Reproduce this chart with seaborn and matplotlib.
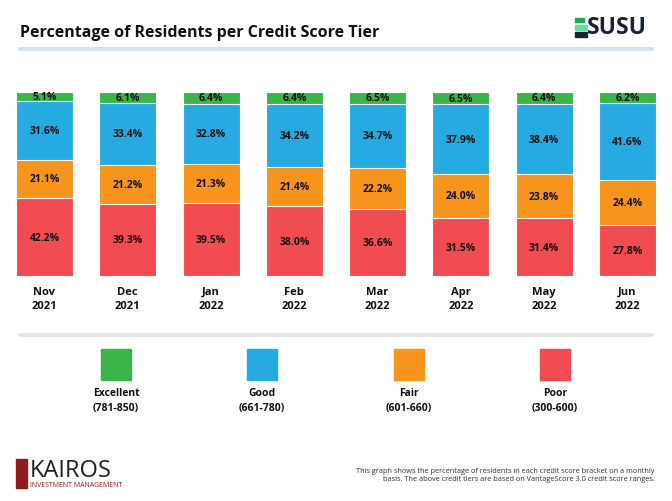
import matplotlib
matplotlib.use("Agg")
import matplotlib.pyplot as plt
import matplotlib.patches as mpatches
import seaborn as sns
import pandas as pd

# data (percent of residents per tier)
months = ["Nov\n2021", "Dec\n2021", "Jan\n2022", "Feb\n2022",
          "Mar\n2022", "Apr\n2022", "May\n2022", "Jun\n2022"]
excellent = [5.1, 6.1, 6.4, 6.4, 6.5, 6.5, 6.4, 6.2]
good = [31.6, 33.4, 32.8, 34.2, 34.7, 37.9, 38.4, 41.6]
fair = [21.1, 21.2, 21.3, 21.4, 22.2, 24.0, 23.8, 24.4]
poor = [42.2, 39.3, 39.5, 38.0, 36.6, 31.5, 31.4, 27.8]

tier_names = ["Excellent", "Good", "Fair", "Poor"]
tier_ranges = ["(781-850)", "(661-780)", "(601-660)", "(300-600)"]
tier_colors = ["#3BB54A", "#27AAE1", "#F7941D", "#F24C53"]

sns.set_theme(style="white")
plt.rcParams["font.family"] = ["Open Sans", "DejaVu Sans"]

df = pd.DataFrame({"month": months, "Excellent": excellent, "Good": good,
                   "Fair": fair, "Poor": poor})
# stack bottom -> top : Poor, Fair, Good, Excellent
stack = ["Poor", "Fair", "Good", "Excellent"]
bottoms = df[stack].cumsum(axis=1) - df[stack]
tops = df[stack].cumsum(axis=1)

fig = plt.figure(figsize=(6.72, 5.02), dpi=100)
ax = fig.add_axes([16 / 672, (502 - 277) / 502, 640 / 672, 184 / 502])

color_of = dict(zip(tier_names, tier_colors))
# draw cumulative tops from the tallest down so the segments stack
for tier in reversed(stack):
    sns.barplot(x=df["month"], y=tops[tier], color=color_of[tier], saturation=1,
                width=0.684, edgecolor="white", linewidth=0.8, ax=ax)

for tier in stack:
    for i in range(len(df)):
        v = df[tier].iloc[i]
        yc = bottoms[tier].iloc[i] + v / 2
        ax.text(i, yc, f"{v:.1f}%", ha="center", va="center",
                fontsize=7.5, fontweight="bold", color="#111111")

ax.set_xlim(-0.342, 7.342)
ax.set_ylim(0, 100)
ax.set_xlabel("")
ax.set_ylabel("")
ax.set_yticks([])
ax.tick_params(axis="x", length=0, pad=7)
for lab in ax.get_xticklabels():
    lab.set_fontweight("bold")
    lab.set_fontsize(8)
    lab.set_color("#111111")
    lab.set_linespacing(1.4)
for s in ax.spines.values():
    s.set_visible(False)

# title + rule
fig.text(20 / 672, 1 - 33 / 502, "Percentage of Residents per Credit Score Tier",
         fontsize=11.5, fontweight="bold", color="#111111", va="center")
fig.add_artist(plt.Line2D([20 / 672, 652 / 672], [1 - 50 / 502] * 2,
                          color="#D3E2F2", lw=3))
# separator above legend
fig.add_artist(plt.Line2D([20 / 672, 652 / 672], [1 - 336 / 502] * 2,
                          color="#E3E7E7", lw=3))

# ESUSU logo
def px_rect(x, y, w, h, color):
    fig.add_artist(mpatches.Rectangle((x / 672, 1 - (y + h) / 502), w / 672, h / 502,
                                      color=color, transform=fig.transFigure))

px_rect(575, 19, 9, 4, "#1FA855")
px_rect(575, 26, 12, 5, "#6EDBA0")
px_rect(575, 33, 12, 5, "#16233A")
fig.text(587 / 672, 1 - 28 / 502, "SUSU", fontsize=16.5, fontweight="bold",
         color="#16233A", va="center", ha="left")

# legend
centers = [116, 262, 409, 555]
for name, rng, col, cx in zip(tier_names, tier_ranges, tier_colors, centers):
    px_rect(cx - 15, 350, 30, 31, col)
    fig.text(cx / 672, 1 - 401 / 502, name + "\n" + rng, ha="center", va="center",
             fontsize=7.5, fontweight="bold", color="#111111", linespacing=1.6)

# KAIROS logo
px_rect(16, 460, 11, 29, "#8E1B1E")
fig.text(30 / 672, 1 - 471 / 502, "KAIROS", fontsize=17, color="#222222",
         va="center", ha="left")
fig.text(30 / 672, 1 - 486 / 502, "INVESTMENT MANAGEMENT", fontsize=5,
         color="#8E1B1E", va="center", ha="left")

# footnote
fig.text(655 / 672, 1 - 476 / 502,
         "This graph shows the percentage of residents in each credit score bracket on a monthly\n"
         "basis. The above credit tiers are based on VantageScore 3.0 credit score ranges.",
         fontsize=5.3, color="#333333", ha="right", va="center", multialignment="right")

fig.savefig("out.png", dpi=100)
